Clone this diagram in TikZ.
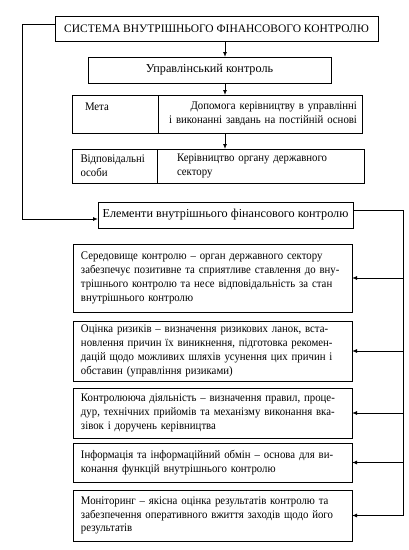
\documentclass[tikz,border=0pt]{standalone}
\usepackage{fontspec}
\setmainfont{Liberation Serif}
\newfontfamily\eltfont[FakeStretch=0.93]{Liberation Serif}
\usetikzlibrary{arrows.meta,positioning}

\begin{document}
\begin{tikzpicture}[x=1pt,y=1pt,
  box/.style = {draw, line width=0.9pt, inner sep=0pt, outer sep=0pt},
  cell/.style = {box, align=left, font=\eltfont\fontsize{11.6}{14}\selectfont},
  elt/.style = {box, minimum width=279, text width=263, align=left,
                font=\eltfont\fontsize{11.6}{13.8}\selectfont},
  arr/.style = {line width=0.9pt, -{Latex[length=5pt,width=4pt]}}]
\useasboundingbox (0,0) rectangle (409,-550);

\node[box, minimum width=323, minimum height=25, font=\fontsize{11.5}{13}\selectfont]
  (sys) at (216.5,-28.5) {СИСТЕМА ВНУТРІШНЬОГО ФІНАНСОВОГО КОНТРОЛЮ};
\node[box, minimum width=243, minimum height=26, font=\fontsize{12.2}{13}\selectfont]
  (upr) at (209.5,-70) {Управлінський контроль};

\node[cell, minimum width=86, minimum height=38, text width=60] (metaL)
  at (115,-114) {Мета\\ ~};
\node[cell, minimum width=204, minimum height=38, text width=194, align=right,
  right=0pt of metaL] (metaR)
  {Допомога керівництву в управлінні\\ і виконанні завдань на постійній основі};

\node[cell, minimum width=85, minimum height=34, text width=68] (respL)
  at (114.5,-166) {Відповідальні\\ особи};
\node[cell, minimum width=207, minimum height=34, text width=167,
  right=0pt of respL] (respR)
  {Керівництво органу державного\\ сектору};

\node[box, minimum width=255, minimum height=26, font=\fontsize{12.2}{13}\selectfont]
  (elem) at (225.5,-215) {Елементи внутрішнього фінансового контролю};

\node[elt, minimum height=68] (env) at (212.5,-278)
  {Середовище контролю – орган державного сектору\\ забезпечує позитивне та сприятливе ставлення до вну-\\трішнього контролю та несе відповідальність за стан\\ внутрішнього контролю};
\node[elt, minimum height=60] (risk) at (212.5,-351)
  {Оцінка ризиків – визначення ризикових ланок, вста-\\новлення причин їх виникнення, підготовка рекомен-\\дацій щодо можливих шляхів усунення цих причин і\\ обставин (управління ризиками)};
\node[elt, minimum height=50] (act) at (212.5,-413)
  {Контролююча діяльність – визначення правил, проце-\\дур, технічних прийомів та механізму виконання вка-\\зівок і доручень керівництва};
\node[elt, minimum height=39] (info) at (212.5,-462.5)
  {Інформація та інформаційний обмін – основа для ви-\\конання функцій внутрішнього контролю};
\node[elt, minimum height=51] (mon) at (212.5,-515.5)
  {Моніторинг – якісна оцінка результатів контролю та\\ забезпечення оперативного вжиття заходів щодо його\\ результатів};

\coordinate (spine) at (225,0);
\coordinate (rail) at (403,0);

\draw[arr] (sys.south -| spine) -- (upr.north -| spine);
\draw[arr] (upr.south -| spine) -- (metaR.north -| spine);
\draw[arr] (metaR.south -| spine) -- (respR.north -| spine);

\draw[arr] ([yshift=4.5pt]sys.west) -- ++(-33,0) |- ([yshift=-4pt]elem.west);
\draw[line width=0.9pt] ([yshift=5pt]elem.east) -| (rail |- mon.east);
\foreach \n in {env,risk,act,info,mon}
  \draw[arr] (rail |- \n.east) -- (\n.east);
\end{tikzpicture}
\end{document}
